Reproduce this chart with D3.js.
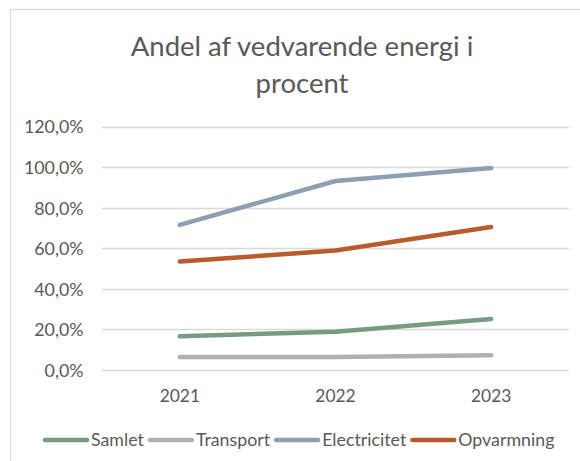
<!DOCTYPE html>
<html>
<head>
<meta charset="utf-8">
<script src="https://cdn.jsdelivr.net/npm/d3@7"></script>
<style>
  html, body { margin: 0; padding: 0; background: #fff; }
  svg { display: block; }
  text { font-family: Lato, "Open Sans", sans-serif; fill: #595959; }
</style>
</head>
<body>
<svg id="chart" width="580" height="461"></svg>
<script>
const years = ["2021", "2022", "2023"];
const samlet = [16.6, 18.9, 25.2];
const transport = [6.4, 6.4, 7.3];
const electricitet = [71.6, 93.2, 99.6];
const opvarmning = [53.5, 58.9, 70.5];
const yTicks = [0, 20, 40, 60, 80, 100, 120];
const seriesNames = ["Samlet", "Transport", "Electricitet", "Opvarmning"];
const seriesColors = ["#789b82", "#b0b0b0", "#8c9fb3", "#b95b2c"];
const titleLines = ["Andel af vedvarende energi i", "procent"];

const series = [samlet, transport, electricitet, opvarmning].map((v, i) => ({
  name: seriesNames[i], color: seriesColors[i], values: v
}));

const svg = d3.select("#chart");
const W = 580, H = 461;
const plot = { left: 102, right: 569, top: 126.7, bottom: 370 };

svg.append("rect").attr("width", W).attr("height", H).attr("fill", "#fff");
svg.append("rect")
  .attr("x", 10.5).attr("y", 9.5).attr("width", 600).attr("height", 500)
  .attr("fill", "#fff").attr("stroke", "#d9d9d9").attr("stroke-width", 1.2);

// title
const title = svg.append("text")
  .attr("text-anchor", "middle")
  .style("font-size", "27.5px");
titleLines.forEach((t, i) => {
  title.append("tspan").attr("x", 302).attr("y", 56 + i * 36.7).text(t);
});

const x = d3.scaleBand().domain(years).range([plot.left, plot.right]);
const y = d3.scaleLinear().domain([0, 120]).range([plot.bottom, plot.top]);

// gridlines
svg.append("g")
  .selectAll("line").data(yTicks).join("line")
  .attr("x1", plot.left).attr("x2", plot.right)
  .attr("y1", d => Math.round(y(d)) + 0.5).attr("y2", d => Math.round(y(d)) + 0.5)
  .attr("stroke", "#d9d9d9").attr("stroke-width", 1.3);

// y axis labels
const yAxis = d3.axisLeft(y).tickValues(yTicks).tickSize(0).tickPadding(0)
  .tickFormat(d => d3.format(".1f")(d).replace(".", ",") + "%");
const gy = svg.append("g").attr("transform", `translate(83.5,0)`).call(yAxis);
gy.select(".domain").remove();
gy.selectAll("text").style("font-size", "17.8px").style("font-family", "Lato, sans-serif").attr("fill", "#595959").attr("dy", "0.35em");

// x axis labels
const xAxis = d3.axisBottom(x).tickSize(0).tickPadding(0);
const gx = svg.append("g").attr("transform", `translate(0,${plot.bottom})`).call(xAxis);
gx.select(".domain").remove();
gx.selectAll("text").style("font-size", "17.4px").style("font-family", "Lato, sans-serif").attr("fill", "#595959").attr("dy", "0").attr("y", 31.7);

// lines
const line = d3.line()
  .x((d, i) => x(years[i]) + x.bandwidth() / 2)
  .y(d => y(d));
svg.append("g").selectAll("path").data(series).join("path")
  .attr("d", d => line(d.values))
  .attr("fill", "none")
  .attr("stroke", d => d.color)
  .attr("stroke-width", 4.5)
  .attr("stroke-linecap", "round")
  .attr("stroke-linejoin", "round");

// legend
const legend = svg.append("g");
let lx = 45;
const ly = 440;
series.forEach(s => {
  legend.append("line")
    .attr("x1", lx).attr("x2", lx + 42).attr("y1", ly).attr("y2", ly)
    .attr("stroke", s.color).attr("stroke-width", 4.5).attr("stroke-linecap", "round");
  const t = legend.append("text")
    .attr("x", lx + 46).attr("y", ly).attr("dy", "0.35em")
    .style("font-size", "17.8px").text(s.name);
  const w = t.node().getComputedTextLength();
  lx = lx + 46 + w + 6;
});
</script>
</body>
</html>
